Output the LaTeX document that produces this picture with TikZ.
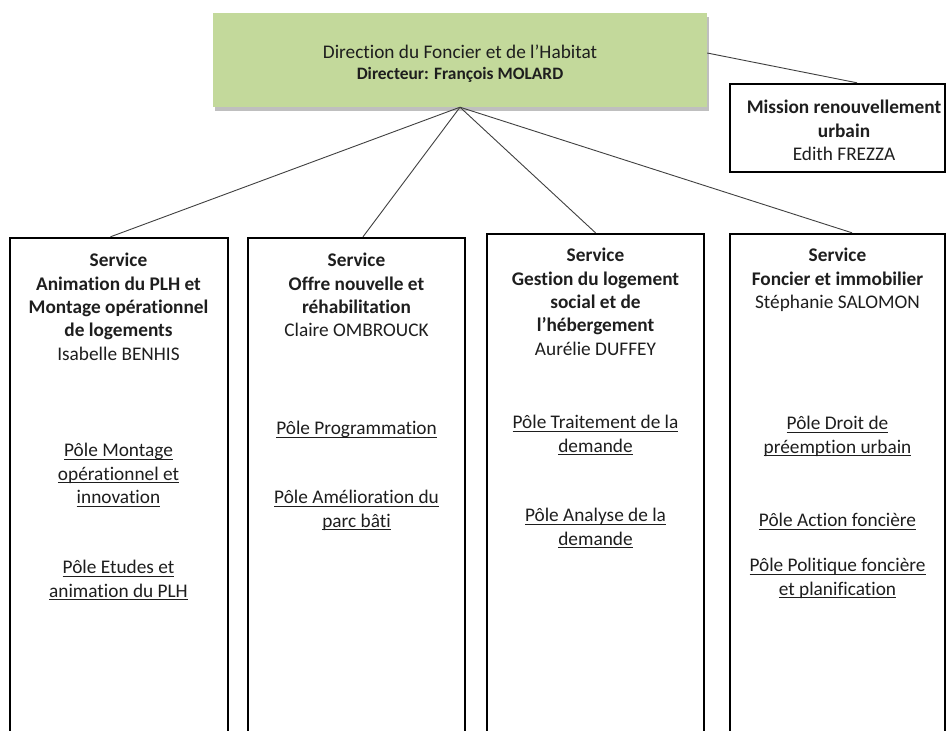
\documentclass[tikz,border=0pt]{standalone}
\usepackage{fontspec}
\setmainfont{Carlito}[Ligatures=NoCommon]
\usepackage{xcolor}
\usepackage{tikz}
\usetikzlibrary{positioning,fit,calc,shadows}
\definecolor{vertdir}{HTML}{C3D99B}
\definecolor{encre}{HTML}{1E1E1E}
\newcommand{\pole}[1]{\setbox0\hbox{#1}\rlap{\rule[-3.2pt]{\wd0}{0.8pt}}\box0}

\begin{document}
\begin{tikzpicture}[x=1pt,y=-1pt,lien/.style={draw=black!75,line width=0.9pt}]
		\tikzset{cadre/.style={draw=black,line width=2.4pt,inner sep=0pt},
			texte/.style={align=center,inner sep=0pt,anchor=north,text=encre,font=\fontsize{19.3}{23.4}\selectfont,execute at begin node=\strut}}
		\clip (0,0) rectangle (946,731);
		\fill[white] (0,0) rectangle (946,731);

		\node[fit={(213,13) (707,107)}, inner sep=0pt, fill=vertdir, drop shadow={shadow xshift=1.5pt,shadow yshift=-3.5pt,fill=black!50,opacity=.5}] (direction) {};
		\node[texte] (directiontxt) at (460,45) {Direction du Foncier et de l’Habitat\\[-2.5pt]{\fontsize{17.4}{21}\selectfont\textbf{Directeur: François MOLARD}}};

		\node[cadre, fit={(730,84) (945,172)}] (mission) {};
		\node[texte] (missiontxt) at (844,100) {\textbf{Mission renouvellement}\\\textbf{urbain}\\Edith FREZZA};

		\node[cadre, fit={(10,238) (228,745)}] (serv1) {};
		\node[cadre, fit={(248,238) (465,745)}] (serv2) {};
		\node[cadre, fit={(487,234) (704,745)}] (serv3) {};
		\node[cadre, fit={(730,234) (945,745)}] (serv4) {};

		\node[texte] (serv1txt) at (118.5,253) {\textbf{Service}\\\textbf{Animation du PLH et}\\\textbf{Montage opérationnel}\\\textbf{de logements}\\Isabelle BENHIS};
		\node[texte] (serv1pa) at (118.5,443) {\pole{Pôle Montage}\\\pole{opérationnel et}\\\pole{innovation}};
		\node[texte] (serv1pb) at (118.5,560) {\pole{Pôle Etudes et}\\\pole{animation du PLH}};

		\node[texte] (serv2txt) at (356.5,253) {\textbf{Service}\\\textbf{Offre nouvelle et}\\\textbf{réhabilitation}\\Claire OMBROUCK};
		\node[texte] (serv2pa) at (356.5,418) {\pole{Pôle Programmation}};
		\node[texte] (serv2pb) at (356.5,490) {\pole{Pôle Amélioration du}\\\pole{parc bâti}};

		\node[texte] (serv3txt) at (595.5,248) {\textbf{Service}\\\textbf{Gestion du logement}\\\textbf{social et de}\\\textbf{l’hébergement}\\Aurélie DUFFEY};
		\node[texte] (serv3pa) at (595.5,415) {\pole{Pôle Traitement de la}\\\pole{demande}};
		\node[texte] (serv3pb) at (595.5,508) {\pole{Pôle Analyse de la}\\\pole{demande}};

		\node[texte] (serv4txt) at (837.5,248) {\textbf{Service}\\\textbf{Foncier et immobilier}\\Stéphanie SALOMON};
		\node[texte] (serv4pa) at (837.5,416) {\pole{Pôle Droit de}\\\pole{préemption urbain}};
		\node[texte] (serv4pb) at (837.5,510) {\pole{Pôle Action foncière}};
		\node[texte] (serv4pc) at (837.5,558) {\pole{Pôle Politique foncière}\\\pole{et planification}};

		\draw [lien] ([yshift=7pt]direction.east) -- ([xshift=19.5pt]mission.north);
		\draw [lien] (direction.south) -- ([xshift=-8.5pt]serv1.north);
		\draw [lien] (direction.south) -- ([xshift=6.5pt]serv2.north);
		\draw [lien] (direction.south) -- (serv3.north);
		\draw [lien] (direction.south) -- ([xshift=14.5pt]serv4.north);

	\end{tikzpicture}
\end{document}
